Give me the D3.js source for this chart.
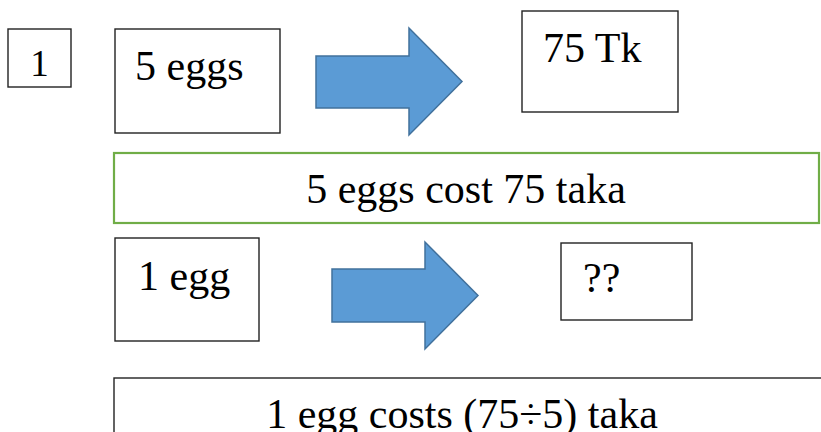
<!DOCTYPE html>
<html>
<head>
<meta charset="utf-8">
<script src="https://cdn.jsdelivr.net/npm/d3@7"></script>
<style>
  html, body { margin: 0; padding: 0; background: #fff; }
  svg { display: block; }
</style>
</head>
<body>
<svg id="chart"></svg>
<script>
// Diagram content
const stepLabels = ["1"];
const quantities = ["5 eggs", "1 egg"];
const prices = ["75 Tk", "??"];
const statements = ["5 eggs cost 75 taka", "1 egg costs (75\u00f75) taka"];

const width = 821, height = 432;
const svg = d3.select("#chart").attr("width", width).attr("height", height);

const serif = "'Liberation Serif', 'Times New Roman', Times, 'DejaVu Serif', serif";

// Layout of each row (pixel geometry kept here, not in data)
const qtyBoxes = [
  { x: 115, y: 29, w: 165, h: 104, tx: 135, ty: 80 },
  { x: 115, y: 238, w: 144, h: 103, tx: 138, ty: 290 }
];
const priceBoxes = [
  { x: 522, y: 11, w: 156, h: 101, tx: 543, ty: 62 },
  { x: 561, y: 243, w: 131, h: 77, tx: 583, ty: 292 }
];
const statementBoxes = [
  { x: 114, y: 153, w: 705, h: 70, cx: 466, ty: 203, stroke: "#70AD47", sw: 2.2 },
  { x: 114, y: 378, w: 720, h: 80, cx: 462, ty: 428, stroke: "#222", sw: 1.4 }
];
const arrows = [
  { x0: 316, x1: 409, x2: 462, sTop: 56, sBot: 108, hTop: 28, hBot: 135 },
  { x0: 332, x1: 425, x2: 478, sTop: 269, sBot: 322, hTop: 242, hBot: 349 }
];

const fontSize = 42;

function box(g, b, stroke, sw) {
  g.append("rect")
    .attr("x", b.x).attr("y", b.y)
    .attr("width", b.w).attr("height", b.h)
    .attr("fill", "#fff")
    .attr("stroke", stroke || "#222")
    .attr("stroke-width", sw || 1.4);
}

function label(g, x, y, str, size, anchor) {
  g.append("text")
    .attr("x", x).attr("y", y)
    .attr("text-anchor", anchor || "start")
    .attr("font-family", serif)
    .attr("font-size", size)
    .attr("fill", "#000")
    .text(str);
}

// step number box
const step = svg.append("g");
box(step, { x: 8, y: 29, w: 63, h: 58 });
label(step, 39.5, 76, stepLabels[0], 37, "middle");

// quantity boxes
quantities.forEach((q, i) => {
  const g = svg.append("g");
  box(g, qtyBoxes[i]);
  label(g, qtyBoxes[i].tx, qtyBoxes[i].ty, q, fontSize);
});

// price boxes
prices.forEach((p, i) => {
  const g = svg.append("g");
  box(g, priceBoxes[i]);
  label(g, priceBoxes[i].tx, priceBoxes[i].ty, p, fontSize);
});

// block arrows
const line = d3.line();
arrows.forEach(a => {
  const yMid = (a.hTop + a.hBot) / 2;
  const pts = [
    [a.x0, a.sTop], [a.x1, a.sTop], [a.x1, a.hTop], [a.x2, yMid],
    [a.x1, a.hBot], [a.x1, a.sBot], [a.x0, a.sBot]
  ];
  svg.append("path")
    .attr("d", line(pts) + "Z")
    .attr("fill", "#5B9BD5")
    .attr("stroke", "#41719C")
    .attr("stroke-width", 1.5)
    .attr("stroke-linejoin", "miter");
});

// statement boxes
statements.forEach((s, i) => {
  const b = statementBoxes[i];
  const g = svg.append("g");
  box(g, b, b.stroke, b.sw);
  label(g, b.cx, b.ty, s, fontSize, "middle");
});
</script>
</body>
</html>
